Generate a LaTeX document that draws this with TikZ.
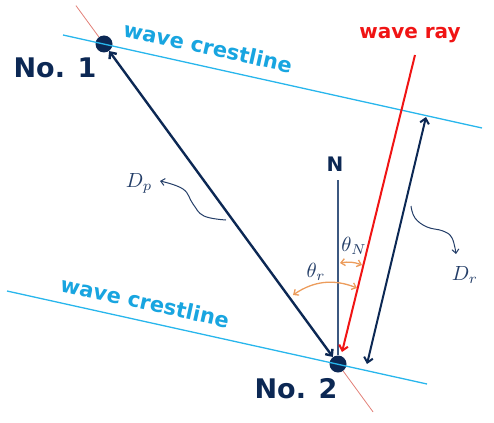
\documentclass[tikz,border=0pt]{standalone}
\usepackage{graphicx}
\usepackage{fontspec}
\setsansfont{DejaVu Sans}
\usetikzlibrary{arrows.meta,calc}
\definecolor{navy}{RGB}{12,40,84}
\definecolor{crestblue}{RGB}{40,182,236}
\definecolor{cresttext}{RGB}{24,165,224}
\definecolor{rayred}{RGB}{240,20,20}
\definecolor{palered}{RGB}{226,128,120}
\definecolor{anglecol}{RGB}{236,156,92}
\definecolor{mathcol}{RGB}{36,62,104}
\definecolor{nline}{RGB}{60,88,128}
\newcommand{\biglabel}[1]{\scalebox{2.05}{$#1$}}

\begin{document}
\begin{tikzpicture}[x=1pt,y=-1pt,
  barb/.tip={Straight Barb[length=5pt,width=9pt]},
  smallbarb/.tip={Straight Barb[length=4pt,width=7pt]},
  dot/.style={circle,fill=navy,inner sep=0pt,minimum size=17pt},
  crestline/.style={crestblue,line width=1.3pt},
  crestlabel/.style={text=cresttext,font=\sffamily\bfseries\fontsize{21}{23}\selectfont,rotate=-12.5},
  pointlabel/.style={text=navy,font=\sffamily\bfseries\fontsize{27}{29}\selectfont},
  mathlabel/.style={text=mathcol,inner sep=1pt},
  wavy/.style={mathcol,line width=1pt,-smallbarb},
  anglearc/.style={anglecol,line width=1.3pt,smallbarb-smallbarb}]
  \useasboundingbox (0,0) rectangle (494,422);

  % the two stations
  \node[dot] (p1) at (104,44) {};
  \node[dot] (p2) at (338,364) {};

  % crestlines through the stations
  \coordinate (c1a) at ($(p1)+(-41,-9)$);
  \coordinate (c1b) at ($(p1)+(378,84)$);
  \coordinate (c2a) at ($(p2)+(-331,-73)$);
  \coordinate (c2b) at ($(p2)+(89,20)$);
  \draw[crestline] (c1a) -- (c1b);
  \draw[crestline] (c2a) -- (c2b);
  \node[crestlabel] (crest1) at (208,47) {wave crestline};
  \node[crestlabel] (crest2) at (145,302) {wave crestline};

  % thin extension of the station line
  \coordinate (e1) at ($(p1)!-0.12!(p2)$);
  \coordinate (e2) at ($(p2)!-0.15!(p1)$);
  \draw[palered,line width=0.8pt] (e1) -- (p1);
  \draw[palered,line width=0.8pt] (p2) -- (e2);

  % distance between the stations
  \draw[navy,line width=2.4pt,barb-barb] (p1) -- (p2);

  % north
  \node[text=navy,font=\sffamily\bfseries\fontsize{20}{22}\selectfont] (nlab) at (335,164) {N};
  \coordinate (ntop) at (338,180);
  \draw[nline,line width=1.3pt] (ntop) -- (p2);

  % wave ray
  \node[text=rayred,font=\sffamily\bfseries\fontsize{20}{22}\selectfont] (raylab) at (410,35) {wave ray};
  \coordinate (ray1) at (415,55);
  \coordinate (ray2) at (342,352);
  \draw[rayred,line width=2pt,-barb] (ray1) -- (ray2);

  % distance along the ray
  \coordinate (dr1) at (426,117);
  \coordinate (dr2) at (367,364);
  \draw[navy,line width=2pt,barb-barb] (dr1) -- (dr2);

  % angles
  \coordinate (tn1) at (340,263);
  \coordinate (tn2) at (362,265);
  \draw[anglearc] (tn1) to[bend left=15] (tn2);
  \coordinate (tr1) at (293,295);
  \coordinate (tr2) at (357,288);
  \draw[anglearc] (tr1) to[bend left=28] (tr2);
  \node[mathlabel] (thn) at (354,246) {\biglabel{\theta_N}};
  \node[mathlabel] (thr) at (316,272) {\biglabel{\theta_r}};

  % distance labels
  \node[mathlabel] (dp) at (139,183) {\biglabel{D_p}};
  \node[mathlabel] (dr) at (465,275) {\biglabel{D_r}};
  \draw[wavy] plot[smooth,tension=0.7] coordinates {(226,220) (204,216) (193,204) (183,189) (160,181)};
  \draw[wavy] plot[smooth,tension=0.7] coordinates {(411,206) (415,218) (427,227) (443,231) (452,238) (456,254)};

  % station labels
  \node[pointlabel] (lab1) at (55,68) {No. 1};
  \node[pointlabel] (lab2) at (296,389) {No. 2};
\end{tikzpicture}
\end{document}
